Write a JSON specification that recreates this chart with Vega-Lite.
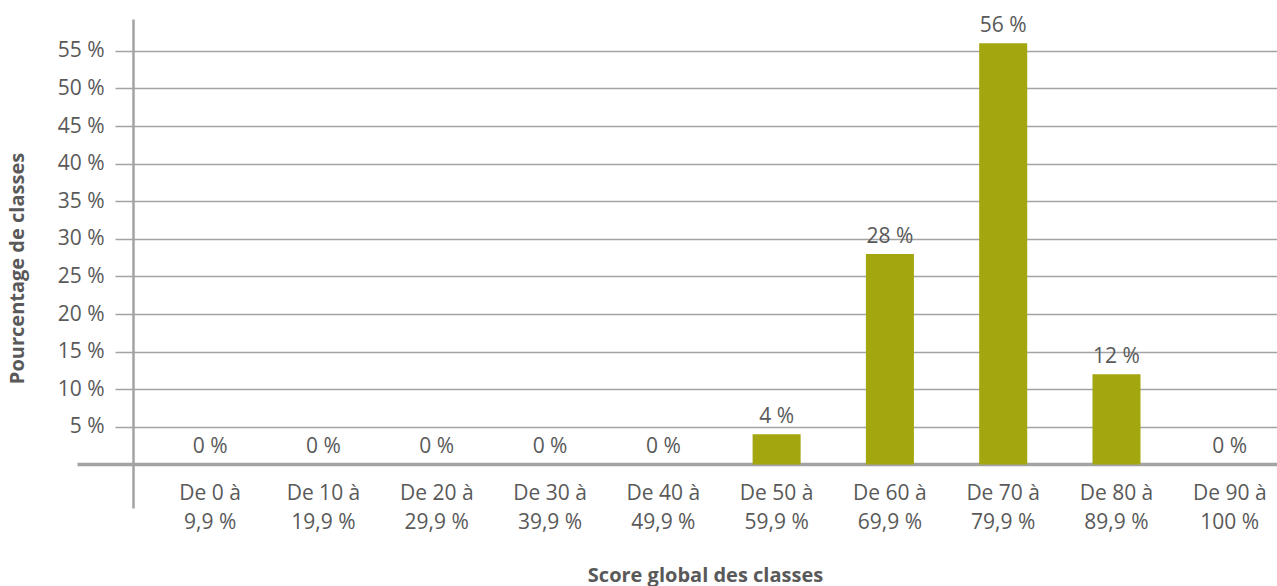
{
  "$schema": "https://vega.github.io/schema/vega-lite/v6.json",
  "autosize": {"type": "none"},
  "width": 1144,
  "height": 489,
  "padding": {"left": 133, "top": 19, "right": 0, "bottom": 78},
  "background": "white",
  "config": {
    "view": {"stroke": null},
    "font": "Open Sans",
    "text": {"font": "Open Sans"}
  },
  "data": {
    "values": [
      {"classe": "De 0 à|9,9 %", "pct": 0, "etiquette": "0 %"},
      {"classe": "De 10 à|19,9 %", "pct": 0, "etiquette": "0 %"},
      {"classe": "De 20 à|29,9 %", "pct": 0, "etiquette": "0 %"},
      {"classe": "De 30 à|39,9 %", "pct": 0, "etiquette": "0 %"},
      {"classe": "De 40 à|49,9 %", "pct": 0, "etiquette": "0 %"},
      {"classe": "De 50 à|59,9 %", "pct": 4, "etiquette": "4 %"},
      {"classe": "De 60 à|69,9 %", "pct": 28, "etiquette": "28 %"},
      {"classe": "De 70 à|79,9 %", "pct": 56, "etiquette": "56 %"},
      {"classe": "De 80 à|89,9 %", "pct": 12, "etiquette": "12 %"},
      {"classe": "De 90 à|100 %", "pct": 0, "etiquette": "0 %"}
    ]
  },
  "encoding": {
    "x": {
      "field": "classe",
      "type": "nominal",
      "sort": null,
      "scale": {"paddingInner": 0.576, "paddingOuter": 0.337, "align": 0.696},
      "axis": {
        "title": "Score global des classes",
        "titleFont": "Open Sans",
        "titleFontSize": 20,
        "titleFontWeight": "bold",
        "titleColor": "#595959",
        "titleY": 67,
        "titleBaseline": "middle",
        "labelExpr": "split(datum.label, '|')",
        "labelAngle": 0,
        "labelFont": "Open Sans",
        "labelFontSize": 21,
        "labelColor": "#595959",
        "labelBaseline": "alphabetic",
        "labelLineHeight": 29.5,
        "labelPadding": -9,
        "ticks": false,
        "tickSize": 0,
        "domain": false,
        "grid": false
      }
    },
    "y": {
      "field": "pct",
      "type": "quantitative",
      "scale": {"domain": [-5.8, 59.24], "nice": false, "zero": false},
      "axis": {
        "title": "Pourcentage de classes",
        "titleFont": "Open Sans",
        "titleFontSize": 20,
        "titleFontWeight": "bold",
        "titleColor": "#595959",
        "titleAngle": -90,
        "titleAlign": "center",
        "titleBaseline": "middle",
        "titleX": -116,
        "titleY": 249,
        "values": [0, 5, 10, 15, 20, 25, 30, 35, 40, 45, 50, 55],
        "labelExpr": "datum.value == 0 ? '' : datum.value + ' %'",
        "labelFont": "Open Sans",
        "labelFontSize": 21,
        "labelColor": "#595959",
        "labelPadding": 11,
        "tickSize": {"condition": {"test": "datum.value == 0", "value": 56}, "value": 18},
        "tickWidth": {"condition": {"test": "datum.value == 0", "value": 3.5}, "value": 1.5},
        "tickColor": "#a3a3a3",
        "grid": true,
        "gridColor": "#a3a3a3",
        "gridWidth": {"condition": {"test": "datum.value == 0", "value": 3.5}, "value": 1.5},
        "domain": true,
        "domainColor": "#a3a3a3",
        "domainWidth": 2.5
      }
    }
  },
  "layer": [
    {
      "mark": {"type": "bar", "color": "#a3a60f"}
    },
    {
      "mark": {"type": "text", "dy": -11, "baseline": "alphabetic", "fontSize": 21, "color": "#595959", "font": "Open Sans"},
      "encoding": {
        "text": {"field": "etiquette", "type": "nominal"}
      }
    }
  ]
}
